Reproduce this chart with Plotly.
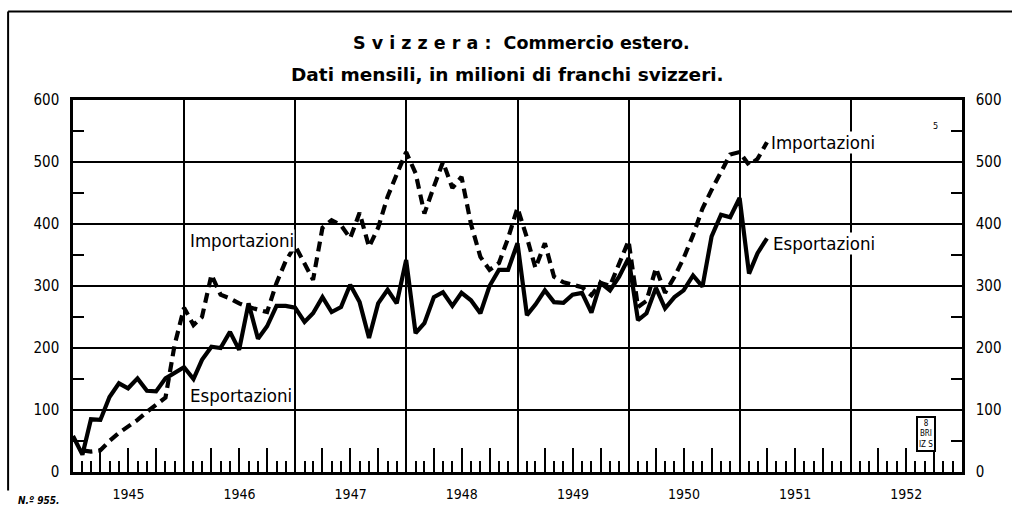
import plotly.graph_objects as go
import pandas as pd

# monthly values, millions of Swiss francs, first point on the left axis (Jan 1945)
exports = [58, 28, 85, 84, 121, 143, 135, 151, 131, 130, 151, 160,
           169, 150, 181, 202, 200, 226, 197, 272, 215, 235, 268, 268,
           265, 242, 256, 282, 258, 266, 302, 274, 216, 272, 294, 272,
           342, 224, 240, 282, 290, 268, 289, 277, 256, 300, 326, 326,
           369, 253, 270, 293, 274, 273, 286, 289, 257, 305, 293, 315,
           345, 245, 256, 297, 264, 282, 293, 317, 299, 380, 415, 411,
           442, 320, 353, 377]
imports = [None, 35, 33, 35, 50, 63, 73, 84, 97, 108, 120, 205,
           265, 237, 250, 318, 286, 280, 272, 266, 262, 258, 305, 340,
           365, 335, 310, 394, 406, 398, 377, 418, 363, 394, 444, 480,
           516, 482, 417, 460, 500, 458, 476, 400, 347, 326, 337, 377,
           426, 378, 329, 369, 315, 306, 302, 298, 285, 305, 300, 335,
           373, 266, 276, 329, 289, 315, 345, 382, 425, 455, 484, 512,
           516, 495, 505, 532]
months = pd.date_range("1945-01-01", periods=len(exports), freq="MS")

x_range = ["1945-01-01", "1953-01-01"]
FONT = "DejaVu Sans Condensed"

fig = go.Figure()
fig.add_trace(go.Scatter(x=months, y=exports, mode="lines", name="Esportazioni",
                         line=dict(color="black", width=4.2)))
fig.add_trace(go.Scatter(x=months, y=imports, mode="lines", name="Importazioni",
                         xaxis="x2", yaxis="y2",
                         line=dict(color="black", width=4.2, dash="10px,6px")))

yticks = dict(range=[0, 600], dtick=100, tick0=0, ticks="", showline=True,
              linecolor="black", linewidth=2.5, zeroline=False, automargin=False,
              tickfont=dict(family=FONT, size=15, color="black"),
              ticklabelstandoff=8,
              minor=dict(tick0=50, dtick=100, ticks="inside", ticklen=11,
                         tickcolor="black", tickwidth=2))

fig.update_layout(
    width=1012, height=508,
    margin=dict(l=73, r=50, t=100, b=36),
    paper_bgcolor="white", plot_bgcolor="white",
    showlegend=False,
    font=dict(family=FONT, color="black"),
    xaxis=dict(type="date", range=x_range, dtick="M12", tick0="1945-01-01",
               tickformat="%Y", ticklabelmode="period", ticks="",
               automargin=False,
               showgrid=True, gridcolor="black", gridwidth=2,
               showline=True, linecolor="black", linewidth=2.5, mirror=True,
               tickfont=dict(family=FONT, size=14, color="black"),
               ticklabelstandoff=7,
               minor=dict(dtick="M3", tick0="1945-01-01", ticks="inside",
                          ticklen=24, tickcolor="black", tickwidth=1.5,
                          showgrid=False)),
    xaxis2=dict(type="date", range=x_range, overlaying="x", anchor="y",
                side="bottom", dtick="M1", tick0="1945-01-01", ticks="inside",
                ticklen=11, tickcolor="black", tickwidth=1.5, automargin=False,
                showticklabels=False, showgrid=False),
    yaxis=dict(side="left", showgrid=True, gridcolor="black", gridwidth=2,
               **yticks),
    yaxis2=dict(side="right", overlaying="y", anchor="x", showgrid=False,
                **yticks),
)

fig.add_annotation(text="<b>S v i z z e r a :  Commercio estero.</b>",
                   xref="paper", yref="paper", x=0.505, y=1.0, yshift=57,
                   yanchor="middle", showarrow=False,
                   font=dict(family="DejaVu Sans", size=17.5))
fig.add_annotation(text="<b>Dati mensili, in milioni di franchi svizzeri.</b>",
                   xref="paper", yref="paper", x=0.489, y=1.0, yshift=26,
                   yanchor="middle", showarrow=False,
                   font=dict(family="DejaVu Sans", size=18.5))

labels = [("Importazioni", "1946-01-17", 374),
          ("Esportazioni", "1946-01-17", 124),
          ("Importazioni", "1951-04-12", 532),
          ("Esportazioni", "1951-04-18", 368)]
for text, lx, ly in labels:
    fig.add_annotation(text=text, x=lx, y=ly, xanchor="left", showarrow=False,
                       bgcolor="white", borderpad=0,
                       font=dict(size=18.5))

fig.add_annotation(text="5", xref="paper", yref="paper", x=0.975, y=0.95,
                   showarrow=False, font=dict(size=9))
fig.add_annotation(text="<i><b>N.º 955.</b></i>", xref="paper", yref="paper",
                   x=-0.064, y=0, yshift=-28, xanchor="left", yanchor="middle",
                   showarrow=False, font=dict(size=10))
fig.add_annotation(text="8<br>BRI<br>IZ S", x="1952-09-05", y=61,
                   showarrow=False, bordercolor="black", borderwidth=2,
                   borderpad=1, bgcolor="white", font=dict(size=8))

# frame of the printed page
fig.add_shape(type="line", xref="paper", yref="paper", x0=-0.073, x1=1.06,
              y0=1.238, y1=1.238, line=dict(color="black", width=2))
fig.add_shape(type="line", xref="paper", yref="paper", x0=-0.073, x1=-0.073,
              y0=1.238, y1=-0.05, line=dict(color="black", width=2))

fig.write_html("out.html", config={"displayModeBar": False},
               post_script="document.body.style.margin='0px';")
